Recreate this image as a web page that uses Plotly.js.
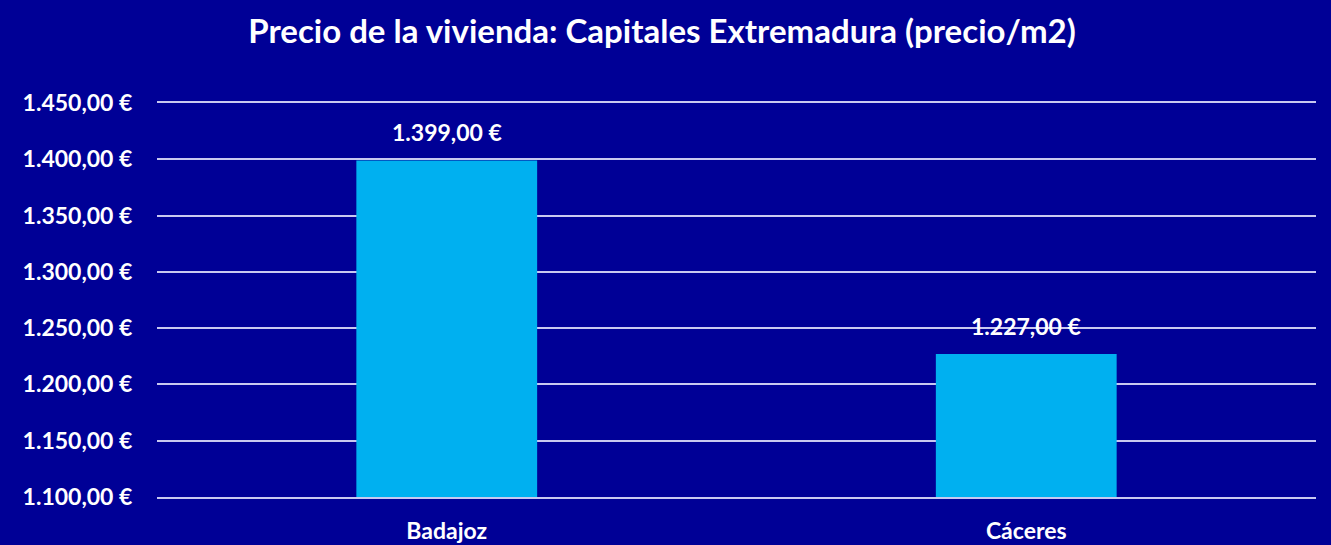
<!DOCTYPE html>
<html>
<head>
<meta charset="utf-8">
<script src="https://cdn.plot.ly/plotly-3.0.1.min.js"></script>
<style>html,body{margin:0;padding:0;background:#000096;}#chart{width:1331px;height:545px;}</style>
</head>
<body>
<div id="chart"></div>
<script>
const categories = ["Badajoz", "Cáceres"];
const prices = [1399, 1227];
const labels = ["1.399,00 €", "1.227,00 €"];
const tickValues = [1100, 1150, 1200, 1250, 1300, 1350, 1400, 1450];
const tickLabels = ["1.100,00 €", "1.150,00 €", "1.200,00 €", "1.250,00 €", "1.300,00 €", "1.350,00 €", "1.400,00 €", "1.450,00 €"];
const titleText = "Precio de la vivienda: Capitales Extremadura (precio/m2)";

const FONT = "Lato, 'Open Sans', sans-serif";
const LINE = "#C8C8F0";

const trace = {
  type: "bar",
  x: categories,
  y: prices,
  marker: {color: "#00B0F0"},
  width: 0.312,
  hoverinfo: "skip"
};

const annotations = categories.map((c, i) => ({
  x: c, y: prices[i], xref: "x", yref: "y",
  text: "<b>" + labels[i] + "</b>",
  showarrow: false, yanchor: "bottom", yshift: 12,
  font: {family: FONT, size: 23, color: "#ffffff"}
}));

const layout = {
  width: 1331, height: 545,
  paper_bgcolor: "#000096",
  plot_bgcolor: "#000096",
  margin: {l: 157, r: 15, t: 103, b: 48},
  showlegend: false,
  title: {
    text: "<b>" + titleText + "</b>",
    x: 662/1331, xanchor: "center", xref: "container",
    y: 1 - 31/545, yanchor: "middle", yref: "container",
    font: {family: FONT, size: 33, color: "#ffffff"}
  },
  xaxis: {
    type: "category",
    showgrid: false, zeroline: false,
    showline: true, mirror: true, linecolor: LINE, linewidth: 2,
    tickfont: {family: FONT, size: 23, color: "#ffffff"},
    ticks: "outside", ticklen: 12, tickcolor: "rgba(0,0,0,0)",
    tickprefix: "<b>", ticksuffix: "</b>"
  },
  yaxis: {
    range: [1100, 1450],
    tickvals: tickValues,
    ticktext: tickLabels.map(t => "<b>" + t + "</b>"),
    showgrid: true, gridcolor: LINE, gridwidth: 2,
    zeroline: false, showline: false,
    tickfont: {family: FONT, size: 23, color: "#ffffff"},
    ticks: "outside", ticklen: 19, tickcolor: "rgba(0,0,0,0)"
  },
  annotations: annotations
};

Plotly.newPlot("chart", [trace], layout, {staticPlot: true, displayModeBar: false});
</script>
</body>
</html>
